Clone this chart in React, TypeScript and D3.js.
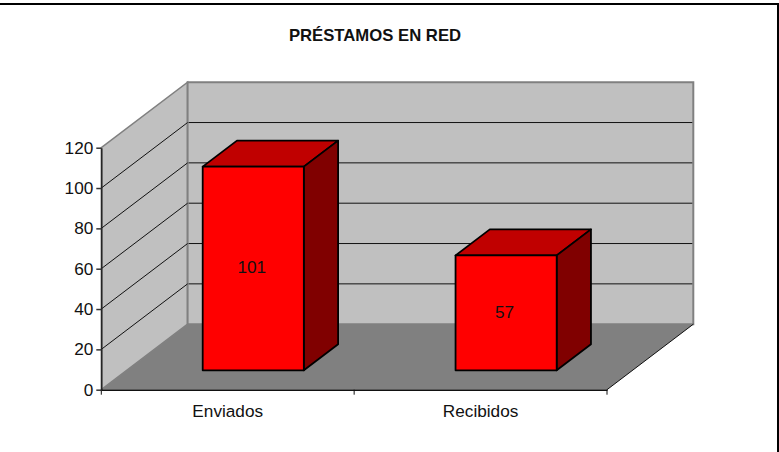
import React, { useRef, useEffect } from "react";
import * as d3 from "d3";

const categories = ["Enviados", "Recibidos"];
const values = [101, 57];
const yTicks = [0, 20, 40, 60, 80, 100, 120];
const chartTitle = "PRÉSTAMOS EN RED";

const WIDTH = 779;
const HEIGHT = 452;
const FONT = "'Liberation Sans', Arial, sans-serif";
const LABEL_SIZE = "17.2px";

export default function App() {
  const svgRef = useRef<SVGSVGElement>(null);

  useEffect(() => {
    const svg = d3.select(svgRef.current);
    svg.selectAll("*").remove();

    // plot box of the front plane, plus the depth shift of the back wall
    const left = 101.3;
    const right = 607;
    const bottom = 389.7;
    const top = 147.7;
    const depthX = 86.3;
    const depthY = -65.5;

    const x = d3.scaleBand().domain(categories).range([left, right]).paddingInner(0.6).paddingOuter(0.3);
    const y = d3.scaleLinear().domain([0, 120]).range([bottom, top]);
    // how far back the bars stand on the floor, 0 = front edge, 1 = back wall
    const depth = d3.scaleLinear().domain([0, 1]).range([0, 1]);
    const barFront = depth(0.296);
    const barBack = depth(0.693);

    const path = (pts: number[][]) => d3.line()(pts as [number, number][]) + "Z";

    // frame, only top and right show in the picture
    svg.append("path")
      .attr("d", `M0,4H778V${HEIGHT}`)
      .attr("fill", "none")
      .attr("stroke", "black")
      .attr("stroke-width", 2);

    svg.append("text")
      .attr("x", 375)
      .attr("y", 41)
      .attr("text-anchor", "middle")
      .style("font-family", FONT)
      .style("font-size", "16.7px")
      .style("font-weight", "bold")
      .attr("fill", "#111")
      .text(chartTitle);

    // walls and floor
    svg.append("path")
      .attr("d", path([[left, y(0)], [left + depthX, y(0) + depthY], [left + depthX, y(120) + depthY], [left, y(120)]]))
      .attr("fill", "#c0c0c0")
      .attr("stroke", "#808080")
      .attr("stroke-width", 1.5);
    svg.append("path")
      .attr("d", path([[left + depthX, y(0) + depthY], [right + depthX, y(0) + depthY], [right + depthX, y(120) + depthY], [left + depthX, y(120) + depthY]]))
      .attr("fill", "#c0c0c0")
      .attr("stroke", "#808080")
      .attr("stroke-width", 2);
    svg.append("path")
      .attr("d", path([[left, y(0)], [right, y(0)], [right + depthX, y(0) + depthY], [left + depthX, y(0) + depthY]]))
      .attr("fill", "#808080");

    // gridlines, side wall then back wall
    const grid = yTicks.filter((d) => d > 0 && d < 120);
    svg.append("g")
      .selectAll("line.side")
      .data(grid)
      .enter()
      .append("line")
      .attr("x1", left)
      .attr("y1", (d) => y(d))
      .attr("x2", left + depthX)
      .attr("y2", (d) => y(d) + depthY)
      .attr("stroke", "#111")
      .attr("stroke-width", 1);
    svg.append("g")
      .selectAll("line.back")
      .data(grid)
      .enter()
      .append("line")
      .attr("x1", left + depthX + 1)
      .attr("y1", (d) => y(d) + depthY)
      .attr("x2", right + depthX - 1)
      .attr("y2", (d) => y(d) + depthY)
      .attr("stroke", "#111")
      .attr("stroke-width", 1);

    // right edge of the floor
    svg.append("line")
      .attr("x1", right)
      .attr("y1", y(0))
      .attr("x2", right + depthX)
      .attr("y2", y(0) + depthY)
      .attr("stroke", "#111")
      .attr("stroke-width", 1);

    // bars
    const barData = categories.map((name, i) => ({ name, value: values[i] }));
    const bars = svg.append("g")
      .selectAll("g")
      .data(barData)
      .enter()
      .append("g")
      .attr("stroke", "black")
      .attr("stroke-width", 1.8)
      .attr("stroke-linejoin", "round");

    const fx = (d: { name: string }) => (x(d.name) as number) + barFront * depthX;
    const bx = (d: { name: string }) => (x(d.name) as number) + barBack * depthX;
    const w = x.bandwidth();

    bars.append("path")
      .attr("fill", "#c00000")
      .attr("d", (d) => path([
        [fx(d), y(d.value) + barFront * depthY],
        [fx(d) + w, y(d.value) + barFront * depthY],
        [bx(d) + w, y(d.value) + barBack * depthY],
        [bx(d), y(d.value) + barBack * depthY],
      ]));
    bars.append("path")
      .attr("fill", "#800000")
      .attr("d", (d) => path([
        [fx(d) + w, y(0) + barFront * depthY],
        [bx(d) + w, y(0) + barBack * depthY],
        [bx(d) + w, y(d.value) + barBack * depthY],
        [fx(d) + w, y(d.value) + barFront * depthY],
      ]));
    bars.append("rect")
      .attr("fill", "#ff0000")
      .attr("x", (d) => fx(d))
      .attr("y", (d) => y(d.value) + barFront * depthY)
      .attr("width", w)
      .attr("height", (d) => y(0) - y(d.value));

    bars.append("text")
      .attr("x", (d) => fx(d) + w / 2 - 1.5)
      .attr("y", (d) => (y(d.value) + y(0)) / 2 + barFront * depthY + 5)
      .attr("text-anchor", "middle")
      .attr("stroke", "none")
      .attr("fill", "#111")
      .style("font-family", FONT)
      .style("font-size", LABEL_SIZE)
      .text((d) => d.value);

    // axes
    const yAxis = svg.append("g")
      .attr("transform", `translate(${left},0)`)
      .call(d3.axisLeft(y).tickValues(yTicks).tickSize(5).tickPadding(3).tickSizeOuter(0));
    yAxis.select(".domain").attr("stroke", "#222").attr("stroke-width", 1.5);
    yAxis.selectAll("line").attr("stroke", "#333").attr("stroke-width", 1.5);
    yAxis.selectAll("text")
      .style("font-family", FONT)
      .style("font-size", LABEL_SIZE)
      .attr("fill", "#111");

    const xAxis = svg.append("g")
      .attr("transform", `translate(0,${bottom})`)
      .call(d3.axisBottom(x).tickSize(0).tickPadding(15).tickSizeOuter(0));
    xAxis.select(".domain").attr("stroke", "#111").attr("stroke-width", 1.5);
    xAxis.selectAll("text")
      .style("font-family", FONT)
      .style("font-size", LABEL_SIZE)
      .attr("fill", "#111");

    // tick marks sit between the categories, not under them
    const boundaries = d3.range(categories.length + 1).map((i) => left + i * x.step());
    xAxis.selectAll("line.boundary")
      .data(boundaries)
      .enter()
      .append("line")
      .attr("class", "boundary")
      .attr("x1", (d) => d)
      .attr("x2", (d) => d)
      .attr("y1", 0)
      .attr("y2", 5)
      .attr("stroke", "#111")
      .attr("stroke-width", 1);
  }, []);

  return (
    <svg
      ref={svgRef}
      width={WIDTH}
      height={HEIGHT}
      style={{ position: "absolute", left: 0, top: 0, background: "white" }}
    ></svg>
  );
}
